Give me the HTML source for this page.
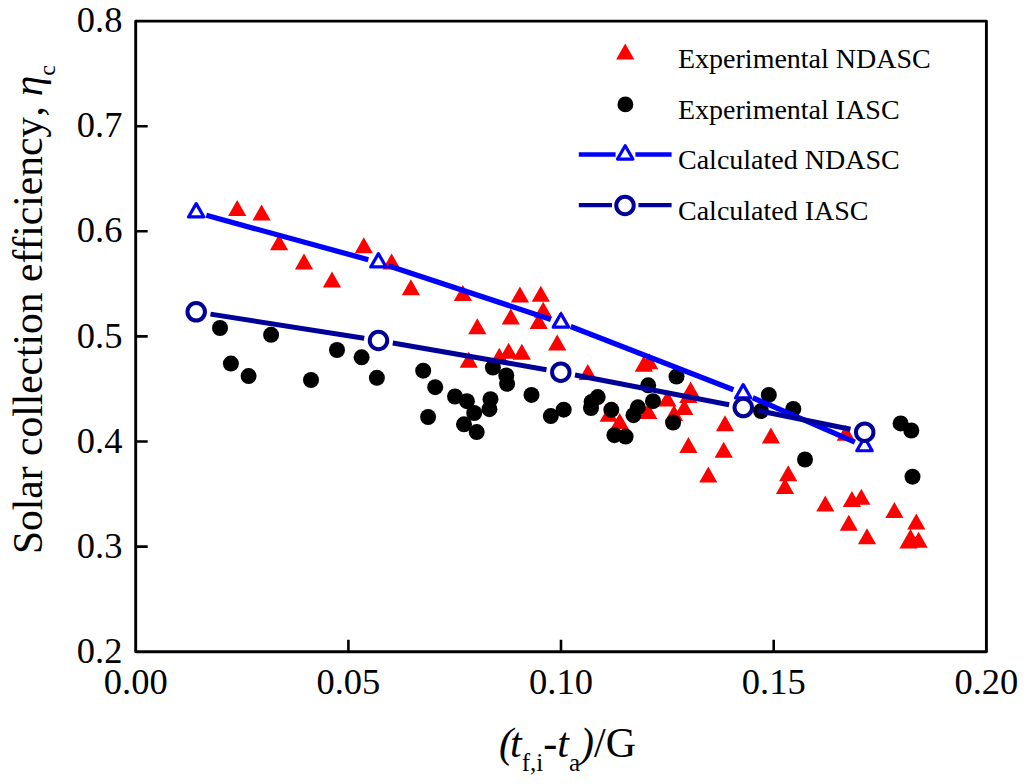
<!DOCTYPE html>
<html><head><meta charset="utf-8"><style>
html,body{margin:0;padding:0;background:#fff;}
svg{display:block;}
text{font-family:"Liberation Serif",serif;fill:#000;}
.tk{font-size:36.5px;}
.lg{font-size:28px;}
.ti{font-size:42px;}
</style></head><body>
<svg width="1024" height="784" viewBox="0 0 1024 784">
<path d="M135.7 21.1H986.4V651.7H135.7Z" fill="none" stroke="#000" stroke-width="2.9" stroke-linejoin="round"/>
<path d="M135.7 546.6h12M135.7 441.5h12M135.7 336.4h12M135.7 231.3h12M135.7 126.2h12M348.4 651.7v-12M561.0 651.7v-12M773.7 651.7v-12" stroke="#000" stroke-width="2.6" fill="none"/>
<text x="122.4" y="662.8" text-anchor="end" class="tk">0.2</text>
<text x="122.4" y="557.7" text-anchor="end" class="tk">0.3</text>
<text x="122.4" y="452.6" text-anchor="end" class="tk">0.4</text>
<text x="122.4" y="347.5" text-anchor="end" class="tk">0.5</text>
<text x="122.4" y="242.4" text-anchor="end" class="tk">0.6</text>
<text x="122.4" y="137.3" text-anchor="end" class="tk">0.7</text>
<text x="122.4" y="32.2" text-anchor="end" class="tk">0.8</text>
<text x="135.7" y="693.7" text-anchor="middle" class="tk">0.00</text>
<text x="348.4" y="693.7" text-anchor="middle" class="tk">0.05</text>
<text x="561.0" y="693.7" text-anchor="middle" class="tk">0.10</text>
<text x="773.7" y="693.7" text-anchor="middle" class="tk">0.15</text>
<text x="986.4" y="693.7" text-anchor="middle" class="tk">0.20</text>
<path d="M237.2 200.1L246.3 216.1L228.1 216.1ZM261.6 204.4L270.7 220.4L252.5 220.4ZM279.1 234.2L288.2 250.2L270.0 250.2ZM304.0 253.4L313.1 269.4L294.9 269.4ZM332.0 271.4L341.1 287.4L322.9 287.4ZM363.8 237.3L372.9 253.3L354.7 253.3ZM391.6 253.4L400.7 269.4L382.5 269.4ZM410.9 279.2L420.0 295.2L401.8 295.2ZM462.9 285.0L472.0 301.0L453.8 301.0ZM519.9 286.4L529.0 302.4L510.8 302.4ZM540.8 285.8L549.9 301.8L531.7 301.8ZM543.2 301.7L552.3 317.7L534.1 317.7ZM510.8 308.6L519.9 324.6L501.7 324.6ZM477.3 318.3L486.4 334.3L468.2 334.3ZM538.7 313.0L547.8 329.0L529.6 329.0ZM561.1 311.0L570.2 327.0L552.0 327.0ZM557.2 334.4L566.3 350.4L548.1 350.4ZM468.8 351.7L477.9 367.7L459.7 367.7ZM499.3 347.7L508.4 363.7L490.2 363.7ZM508.6 342.7L517.7 358.7L499.5 358.7ZM521.8 343.7L530.9 359.7L512.7 359.7ZM587.8 364.0L596.9 380.0L578.7 380.0ZM643.8 355.8L652.9 371.8L634.7 371.8ZM649.2 353.2L658.3 369.2L640.1 369.2ZM690.6 381.4L699.7 397.4L681.5 397.4ZM688.4 387.0L697.5 403.0L679.3 403.0ZM667.4 390.6L676.5 406.6L658.3 406.6ZM684.3 399.0L693.4 415.0L675.2 415.0ZM674.0 405.0L683.1 421.0L664.9 421.0ZM648.3 403.0L657.4 419.0L639.2 419.0ZM608.7 405.8L617.8 421.8L599.6 421.8ZM619.7 413.0L628.8 429.0L610.6 429.0ZM688.4 437.0L697.5 453.0L679.3 453.0ZM725.0 415.3L734.1 431.3L715.9 431.3ZM723.7 441.7L732.8 457.7L714.6 457.7ZM708.3 466.6L717.4 482.6L699.2 482.6ZM770.9 427.5L780.0 443.5L761.8 443.5ZM845.8 424.8L854.9 440.8L836.7 440.8ZM788.2 465.3L797.3 481.3L779.1 481.3ZM785.0 478.0L794.1 494.0L775.9 494.0ZM825.3 495.6L834.4 511.6L816.2 511.6ZM851.9 491.0L861.0 507.0L842.8 507.0ZM861.3 488.8L870.4 504.8L852.2 504.8ZM894.4 502.0L903.5 518.0L885.3 518.0ZM848.8 514.7L857.9 530.7L839.7 530.7ZM867.0 528.3L876.1 544.3L857.9 544.3ZM916.3 513.5L925.4 529.5L907.2 529.5ZM908.5 532.5L917.6 548.5L899.4 548.5ZM910.5 529.0L919.6 545.0L901.4 545.0ZM918.6 531.8L927.7 547.8L909.5 547.8Z" fill="#ff0000"/>
<g fill="#000"><circle cx="220" cy="328" r="8.0"/><circle cx="271.1" cy="334.8" r="8.0"/><circle cx="230.9" cy="363.6" r="8.0"/><circle cx="248.6" cy="376.1" r="8.0"/><circle cx="311" cy="380" r="8.0"/><circle cx="337" cy="350" r="8.0"/><circle cx="361.6" cy="357.3" r="8.0"/><circle cx="376.9" cy="377.8" r="8.0"/><circle cx="423.2" cy="370.7" r="8.0"/><circle cx="435.2" cy="387.2" r="8.0"/><circle cx="455" cy="396.5" r="8.0"/><circle cx="466.9" cy="401.2" r="8.0"/><circle cx="428.1" cy="417" r="8.0"/><circle cx="474.2" cy="413" r="8.0"/><circle cx="464" cy="424.3" r="8.0"/><circle cx="476.7" cy="432.1" r="8.0"/><circle cx="492.9" cy="367.6" r="8.0"/><circle cx="506.3" cy="375.5" r="8.0"/><circle cx="507.1" cy="383.8" r="8.0"/><circle cx="490.5" cy="399.2" r="8.0"/><circle cx="489.4" cy="409.2" r="8.0"/><circle cx="531.5" cy="394.9" r="8.0"/><circle cx="550.8" cy="416.1" r="8.0"/><circle cx="563.7" cy="409.7" r="8.0"/><circle cx="597.7" cy="397.1" r="8.0"/><circle cx="591.6" cy="402" r="8.0"/><circle cx="591" cy="408" r="8.0"/><circle cx="611.3" cy="409.8" r="8.0"/><circle cx="614.4" cy="435.2" r="8.0"/><circle cx="625.6" cy="436.6" r="8.0"/><circle cx="637.9" cy="407.3" r="8.0"/><circle cx="633.5" cy="415.2" r="8.0"/><circle cx="653" cy="401.2" r="8.0"/><circle cx="648.2" cy="385.3" r="8.0"/><circle cx="676.5" cy="376.6" r="8.0"/><circle cx="673.1" cy="422.6" r="8.0"/><circle cx="768.8" cy="394.9" r="8.0"/><circle cx="761" cy="411.1" r="8.0"/><circle cx="793.3" cy="408.9" r="8.0"/><circle cx="805" cy="459.5" r="8.0"/><circle cx="900.6" cy="423.4" r="8.0"/><circle cx="911.3" cy="430.5" r="8.0"/><circle cx="912.5" cy="476.7" r="8.0"/></g>
<path d="M206.3 215.3L368.3 259.7M388.4 265.8L550.9 319.4M570.7 326.5L733.4 389.7M752.8 397.7L854.9 442.1" stroke="#0000ff" stroke-width="5.3" fill="none"/>
<path d="M196.20 203.61L203.90 216.95L188.50 216.95Z" fill="#fff" stroke="#0000ff" stroke-width="3.2" stroke-linejoin="round"/>
<path d="M378.40 253.61L386.10 266.95L370.70 266.95Z" fill="#fff" stroke="#0000ff" stroke-width="3.2" stroke-linejoin="round"/>
<path d="M560.90 313.81L568.60 327.15L553.20 327.15Z" fill="#fff" stroke="#0000ff" stroke-width="3.2" stroke-linejoin="round"/>
<path d="M743.20 384.61L750.90 397.95L735.50 397.95Z" fill="#fff" stroke="#0000ff" stroke-width="3.2" stroke-linejoin="round"/>
<path d="M864.50 437.41L872.20 450.75L856.80 450.75Z" fill="#fff" stroke="#0000ff" stroke-width="3.2" stroke-linejoin="round"/>
<path d="M210.5 314.1L364.2 338.2M392.8 343.0L546.5 369.7M575.0 375.0L729.1 404.8M757.5 410.5L850.5 429.3" stroke="#000099" stroke-width="5.0" fill="none"/>
<circle cx="196.2" cy="311.8" r="8.75" fill="#fff" stroke="#000099" stroke-width="4"/>
<circle cx="378.5" cy="340.5" r="8.75" fill="#fff" stroke="#000099" stroke-width="4"/>
<circle cx="560.8" cy="372.2" r="8.75" fill="#fff" stroke="#000099" stroke-width="4"/>
<circle cx="743.3" cy="407.6" r="8.75" fill="#fff" stroke="#000099" stroke-width="4"/>
<circle cx="864.7" cy="432.2" r="8.75" fill="#fff" stroke="#000099" stroke-width="4"/>
<path d="M625.2 43.5L634.3 59.5L616.1 59.5Z" fill="#ff0000"/>
<circle cx="625.4" cy="104.4" r="7.9" fill="#000"/>
<path d="M578.8 154.5H615.6M635.4 154.5H671.6" stroke="#0000ff" stroke-width="4.3"/>
<path d="M625.20 145.71L632.90 159.05L617.50 159.05Z" fill="#fff" stroke="#0000ff" stroke-width="3.2" stroke-linejoin="round"/>
<path d="M578.8 205.2H612M638.4 205.2H671.6" stroke="#000099" stroke-width="4.3"/>
<circle cx="625" cy="205.4" r="8.75" fill="#fff" stroke="#000099" stroke-width="4"/>
<text x="678" y="68.3" class="lg">Experimental NDASC</text>
<text x="678" y="119.1" class="lg">Experimental IASC</text>
<text x="678" y="169.2" class="lg">Calculated NDASC</text>
<text x="678" y="219.5" class="lg">Calculated IASC</text>
<text transform="translate(42,554) rotate(-90)" class="ti" style="font-size:41.5px">Solar collection efficiency<tspan dx="3">, </tspan><tspan font-style="italic" dx="-0.5">η</tspan><tspan font-size="24" dy="13">c</tspan></text>
<text y="757" class="ti"><tspan x="499" font-style="italic">(</tspan><tspan font-style="italic" dx="-3">t</tspan><tspan font-size="25" dy="14">f,i</tspan><tspan dy="-14">-</tspan><tspan font-style="italic">t</tspan><tspan font-size="25" dy="14">a</tspan><tspan dy="-14" font-style="italic">)</tspan><tspan>/G</tspan></text>
</svg></body></html>
